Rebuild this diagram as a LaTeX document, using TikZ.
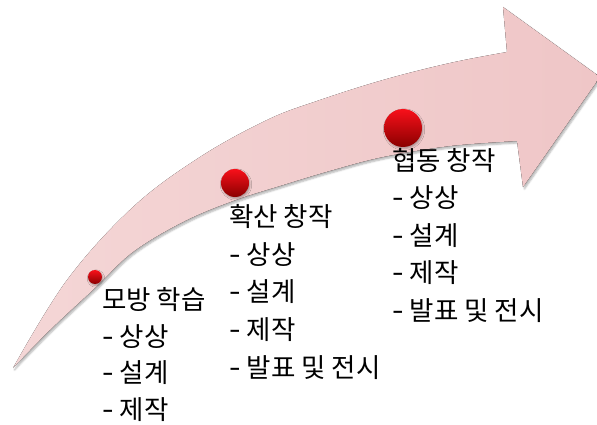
\documentclass[tikz,border=0pt]{standalone}
\usepackage{fontspec}
\newfontfamily\kr{Noto Sans CJK KR}
\usetikzlibrary{shadows.blur}
\definecolor{arrowpink}{HTML}{EFC6C7}
\definecolor{arrowtail}{HTML}{F4D6D6}
\definecolor{ballhi}{HTML}{F8101A}
\definecolor{ballmid}{HTML}{E00008}
\definecolor{balllo}{HTML}{8A0000}
\newcommand{\itm}[1]{\scalebox{1.25}[1.1]{-}\hspace{6pt}#1}
\tikzset{
  lbl/.style={font=\kr\fontsize{26.5}{30}\selectfont, anchor=base west, inner sep=0pt, text=black},
  dot/.style={circle, inner sep=0pt, shading=axis, top color=ballhi, middle color=ballmid, bottom color=balllo,
    blur shadow={shadow xshift=1pt, shadow yshift=-1.5pt, shadow opacity=30, shadow blur steps=4}},
}
\begin{document}
\begin{tikzpicture}[x=1pt,y=-1pt]
\useasboundingbox (0,0) rectangle (597,425);
% arrow body
\fill[left color=arrowtail, right color=arrowpink,
  blur shadow={shadow xshift=1.5pt, shadow yshift=-2pt, shadow opacity=30, shadow blur steps=5}]
  plot[smooth, tension=0.6] coordinates {(13,368) (67,280) (133,207) (200,157) (267,120) (317,101) (383,80) (450,63) (507,52)}
  -- (503,7) -- (600,77) -- (523,187) -- (517,141)
  -- plot[smooth, tension=0.6] coordinates {(517,141) (450,146) (383,157) (333,170) (283,185) (233,201) (183,222) (133,252) (95,288) (50,330) (13,368)}
  -- cycle;
% balls
\node[dot, minimum size=14pt] (d1) at (95,277) {};
\node[dot, minimum size=28pt] (d2) at (235,183) {};
\node[dot, minimum size=38pt] (d3) at (403,128) {};
% block 1
\node[lbl] (a0) at (102,309) {모방 학습};
\node[lbl] (a1) at (102,346) {\itm{상상}};
\node[lbl] (a2) at (102,382.5) {\itm{설계}};
\node[lbl] (a3) at (102,419) {\itm{제작}};
% block 2
\node[lbl] (b0) at (229,226) {확산 창작};
\node[lbl] (b1) at (229,264) {\itm{상상}};
\node[lbl] (b2) at (229,301.5) {\itm{설계}};
\node[lbl] (b3) at (229,339) {\itm{제작}};
\node[lbl] (b4) at (229,377) {\itm{발표 및 전시}};
% block 3
\node[lbl] (c0) at (392,170) {협동 창작};
\node[lbl] (c1) at (392,207.5) {\itm{상상}};
\node[lbl] (c2) at (392,245) {\itm{설계}};
\node[lbl] (c3) at (392,282.5) {\itm{제작}};
\node[lbl] (c4) at (392,320) {\itm{발표 및 전시}};
\end{tikzpicture}
\end{document}
